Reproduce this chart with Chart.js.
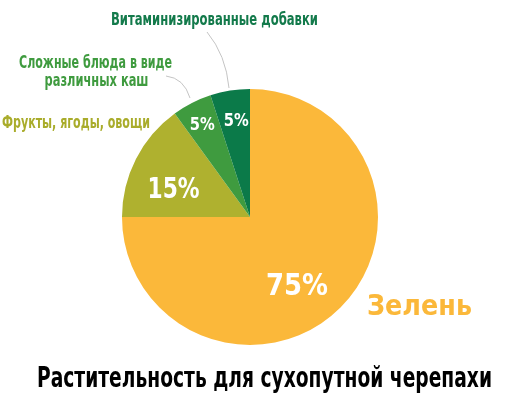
<!DOCTYPE html>
<html>
<head>
<meta charset="utf-8">
<script src="https://cdn.jsdelivr.net/npm/chart.js@4"></script>
<style>
  html, body { margin: 0; padding: 0; background: #fff; }
  #wrap { width: 506px; height: 393px; position: relative; }
</style>
</head>
<body>
<div id="wrap"><canvas id="pieChart" width="506" height="393"></canvas></div>
<script>
const categories = ["Зелень", "Фрукты, ягоды, овощи", "Сложные блюда в виде различных каш", "Витаминизированные добавки"];
const values = [75, 15, 5, 5];
const colors = ["#fbb83a", "#afb12f", "#3f9b3f", "#0b7a49"];
const title = "Растительность для сухопутной черепахи";

const FONT = "'Liberation Sans Narrow', 'DejaVu Sans Condensed', sans-serif";

// draw bold text squeezed to a given width, centred on cx
function fitText(ctx, text, cx, y, size, width, color) {
  ctx.save();
  ctx.font = "bold " + size + "px " + FONT;
  ctx.fillStyle = color;
  ctx.textBaseline = "alphabetic";
  ctx.textAlign = "left";
  const w = ctx.measureText(text).width;
  const sx = width / w;
  ctx.translate(cx - width / 2, y);
  ctx.scale(sx, 1);
  ctx.fillText(text, 0, 0);
  ctx.restore();
}

// percent labels: radius fraction, angle shift (deg), font size, width
const pctPlace = [
  [0.64, 10, 30, 62],
  [0.64, -6, 29, 52],
  [0.82, 0, 18, 25],
  [0.77, 1, 18, 25]
];

const labelsPlugin = {
  id: "labels",
  afterDraw(chart) {
    const ctx = chart.ctx;
    const arcs = chart.getDatasetMeta(0).data;
    const total = values.reduce((a, b) => a + b, 0);
    arcs.forEach((arc, i) => {
      const p = arc.getProps(["x", "y", "startAngle", "endAngle", "outerRadius"], true);
      const mid = (p.startAngle + p.endAngle) / 2 + pctPlace[i][1] * Math.PI / 180;
      const r = p.outerRadius * pctPlace[i][0];
      const x = p.x + Math.cos(mid) * r;
      const y = p.y + Math.sin(mid) * r;
      const size = pctPlace[i][2];
      const txt = Math.round(values[i] / total * 100) + "%";
      fitText(ctx, txt, x, y + size * 0.36, size, pctPlace[i][3], "#ffffff");
    });

    // leader lines
    ctx.save();
    ctx.strokeStyle = "#c4c4c4";
    ctx.lineWidth = 1;
    ctx.beginPath();
    ctx.moveTo(207, 32);
    ctx.quadraticCurveTo(226, 55, 229, 88);
    ctx.moveTo(166, 76);
    ctx.quadraticCurveTo(184, 78, 190, 98);
    ctx.stroke();
    ctx.restore();

    // category labels
    fitText(ctx, "Витаминизированные добавки", 214.5, 25, 17, 207, "#137a4b");
    fitText(ctx, "Сложные блюда в виде", 95.5, 68, 17, 153, "#3f9b3f");
    fitText(ctx, "различных каш", 96.5, 86, 17, 104, "#3f9b3f");
    fitText(ctx, "Фрукты, ягоды, овощи", 76, 128, 17, 148, "#a9ac2b");
    fitText(ctx, categories[0], 419.5, 315, 29, 105, "#fbb83a");

    // title
    fitText(ctx, title, 264.5, 387, 28, 455, "#000000");
  }
};

new Chart(document.getElementById("pieChart").getContext("2d"), {
  type: "pie",
  data: {
    labels: categories,
    datasets: [{ data: values, backgroundColor: colors, borderWidth: 0 }]
  },
  options: {
    responsive: false,
    animation: false,
    layout: { padding: { left: 122, right: 128, top: 89, bottom: 48 } },
    plugins: { legend: { display: false }, tooltip: { enabled: false }, title: { display: false } }
  },
  plugins: [labelsPlugin]
});
</script>
</body>
</html>
